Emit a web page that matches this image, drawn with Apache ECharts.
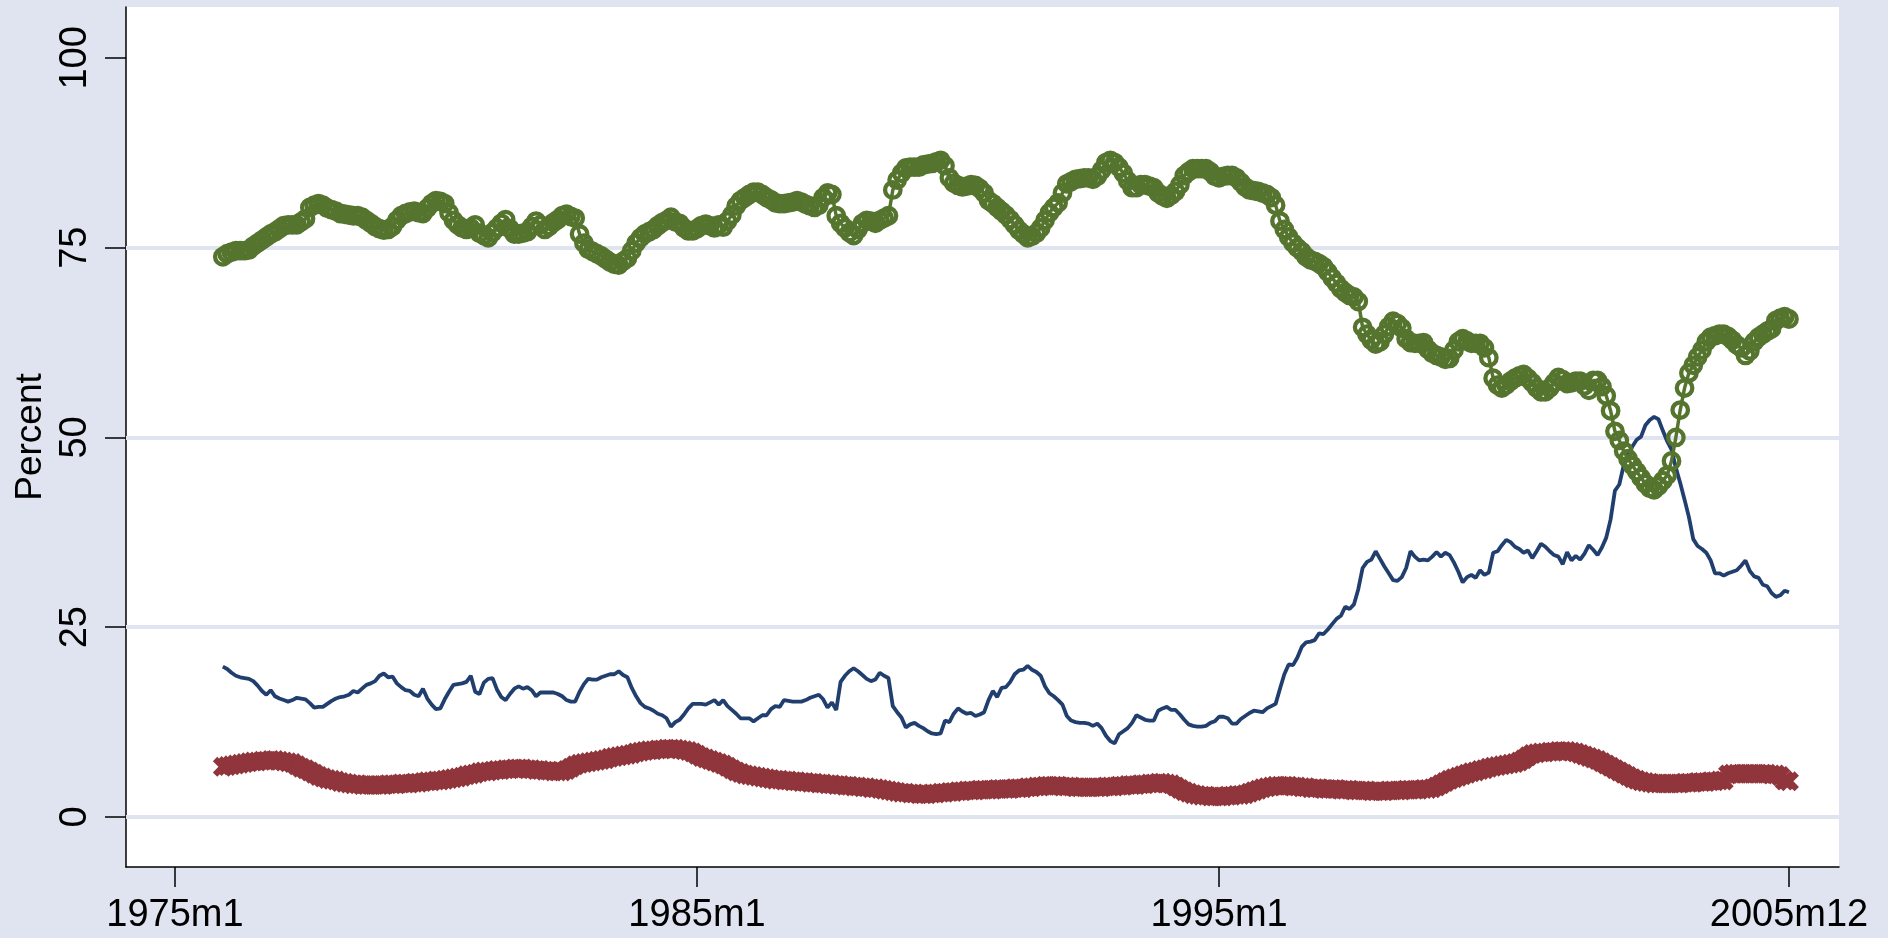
<!DOCTYPE html>
<html><head><meta charset="utf-8">
<script src="https://cdn.jsdelivr.net/npm/echarts@6/dist/echarts.min.js"></script>
<style>html,body{margin:0;padding:0;background:#e0e4f0}#c{width:1894px;height:938px}</style>
</head><body><div id="c"></div>
<script>
// months counted from 1975m1 (=0); data start at 1975m12
const startMonth = 11;
const tickMonths = [0, 120, 240, 371];
const tickLabels = ['1975m1', '1985m1', '1995m1', '2005m12'];
const yTicks = [0, 25, 50, 75, 100];
const gridValues = [0, 25, 50, 75];

const seriesBlue = [
19.8,19.5,19.0,18.6,18.4,18.3,18.2,17.9,17.3,16.6,16.1,16.7,
15.9,15.6,15.4,15.2,15.4,15.7,15.6,15.5,15.0,14.4,14.5,14.5,
14.9,15.3,15.6,15.8,15.9,16.1,16.6,16.4,16.9,17.4,17.6,17.9,
18.6,18.9,18.4,18.5,17.6,17.1,16.7,16.6,16.1,15.9,16.9,15.6,
14.8,14.2,14.3,15.5,16.5,17.4,17.5,17.6,17.8,18.6,16.5,16.2,
17.7,18.2,18.3,16.8,15.8,15.4,16.2,16.9,17.2,16.9,17.1,16.7,
15.9,16.4,16.4,16.4,16.4,16.2,15.9,15.4,15.2,15.2,16.5,17.5,
18.2,18.1,18.1,18.4,18.6,18.8,18.8,19.2,18.7,18.4,17.0,15.9,
15.0,14.5,14.3,14.0,13.6,13.4,13.0,11.9,12.5,12.8,13.5,14.3,
14.9,14.9,14.9,14.8,15.1,15.4,14.8,15.4,14.6,14.1,13.6,13.0,
13.0,13.0,12.6,13.0,13.4,13.4,14.2,14.6,14.5,15.4,15.3,15.2,
15.2,15.2,15.4,15.7,15.9,16.1,15.5,14.4,15.1,14.1,17.8,18.6,
19.2,19.6,19.2,18.7,18.2,17.9,18.1,19.0,18.6,18.3,14.6,13.8,
13.1,11.8,12.2,12.4,12.0,11.7,11.3,11.0,10.9,11.0,12.7,12.5,
13.6,14.3,13.9,13.6,13.7,13.3,13.5,13.8,15.4,16.6,15.8,17.0,
17.1,17.8,18.8,19.3,19.4,19.9,19.4,19.1,18.6,17.2,16.3,15.9,
15.4,14.8,13.3,12.7,12.5,12.4,12.4,12.3,12.0,12.3,11.7,10.7,
10.0,9.7,10.9,11.3,11.7,12.4,13.4,13.1,12.8,12.7,12.7,14.0,
14.3,14.5,14.1,14.1,13.5,12.8,12.2,12.0,11.9,11.9,12.0,12.4,
12.6,13.2,13.2,13.0,12.3,12.3,12.9,13.3,13.7,14.0,13.9,13.8,
14.3,14.6,14.9,16.9,18.8,20.1,20.0,21.0,22.4,23.0,23.1,23.3,
24.2,24.1,24.7,25.4,26.1,26.5,27.7,27.4,28.0,30.0,32.8,33.6,
33.9,35.0,34.0,33.0,32.1,31.2,31.1,31.6,32.8,35.0,34.3,33.8,
33.9,33.8,34.3,34.9,34.3,34.8,34.5,33.5,32.3,30.9,31.6,31.9,
31.5,32.5,31.9,32.2,34.8,35.0,35.8,36.5,36.2,35.6,35.3,34.8,
35.1,34.1,35.0,36.0,35.6,35.0,34.5,34.3,33.3,34.9,33.8,34.4,
33.9,34.7,35.8,35.2,34.5,35.5,36.8,39.2,43.0,43.8,46.3,47.6,
48.8,49.7,50.1,51.6,52.3,52.7,52.4,50.9,49.5,48.4,46.0,44.0,
41.8,39.5,36.6,35.7,35.3,34.8,33.8,32.1,32.1,31.8,32.1,32.3,
32.5,33.1,33.8,32.4,31.7,31.5,30.6,30.4,29.5,29.0,29.2,29.8,
29.6];

const seriesGreen = [
73.8,74.2,74.4,74.6,74.6,74.6,74.7,75.2,75.6,76.0,76.4,76.8,
77.1,77.5,77.9,78.0,78.0,78.0,78.4,78.8,80.3,80.6,80.8,80.6,
80.2,80.0,79.8,79.5,79.4,79.3,79.2,79.2,79.0,78.6,78.2,77.8,
77.5,77.3,77.4,77.8,78.6,79.2,79.5,79.7,79.8,79.6,79.5,80.2,
80.8,81.2,81.1,80.8,79.6,78.6,78.0,77.6,77.4,77.6,78.0,76.9,
76.6,76.3,77.0,77.6,78.2,78.7,77.5,76.8,76.8,76.9,77.1,77.8,
78.5,78.0,77.4,77.8,78.3,78.7,79.2,79.4,79.1,78.9,76.8,75.6,
74.8,74.5,74.2,73.9,73.5,73.1,72.8,72.7,73.2,73.6,74.6,75.6,
76.3,76.8,77.1,77.4,77.9,78.3,78.6,79.0,78.4,78.2,77.6,77.2,
77.2,77.5,77.9,78.1,77.9,77.6,78.0,77.7,78.5,79.3,80.5,81.2,
81.6,82.0,82.3,82.3,82.0,81.6,81.3,80.9,80.8,80.8,80.9,81.0,
81.2,81.0,80.7,80.5,80.3,80.6,81.6,82.2,82.0,79.2,78.2,77.6,
77.0,76.6,77.4,78.2,78.6,78.5,78.2,78.6,78.9,79.2,82.6,83.9,
84.8,85.5,85.6,85.6,85.6,85.9,86.0,86.1,86.3,86.5,85.8,84.2,
83.5,83.2,83.0,83.1,83.3,83.2,82.8,82.2,81.2,80.8,80.3,79.8,
79.3,78.7,78.0,77.3,76.8,76.3,76.5,76.9,77.6,78.6,79.6,80.3,
80.9,82.2,83.4,83.7,84.0,84.1,84.2,84.2,84.0,84.4,85.2,86.2,
86.5,86.2,85.6,84.8,83.8,82.9,82.9,83.3,83.3,83.1,82.9,82.2,
81.8,81.5,81.9,82.4,83.3,84.5,85.0,85.4,85.4,85.4,85.4,85.0,
84.4,84.2,84.4,84.5,84.5,84.2,83.6,83.0,82.6,82.5,82.4,82.2,
82.0,81.6,80.6,78.5,77.4,76.4,75.6,75.0,74.5,73.8,73.4,73.2,
72.9,72.5,71.8,71.0,70.3,69.6,69.1,68.7,68.5,67.9,64.5,63.6,
62.8,62.3,62.6,63.6,64.6,65.3,65.0,64.4,63.0,62.5,62.4,62.4,
62.5,61.6,61.1,60.8,60.6,60.3,60.4,61.5,62.6,63.0,62.7,62.4,
62.4,62.4,61.8,60.5,57.8,56.9,56.5,56.9,57.4,57.8,58.1,58.3,
57.8,57.2,56.5,56.0,56.0,56.5,57.2,57.9,57.6,57.1,57.2,57.4,
57.4,56.8,56.2,57.5,57.5,56.7,55.5,53.5,50.8,49.6,48.2,47.2,
46.3,45.5,44.7,43.9,43.3,43.1,43.6,44.3,45.0,46.9,50.0,53.6,
56.5,58.5,59.5,60.6,61.5,62.6,63.2,63.4,63.6,63.6,63.3,62.8,
62.2,61.8,60.8,61.4,62.6,63.2,63.6,64.0,64.3,65.4,65.7,65.9,
65.6];

const seriesRed = [
6.6,6.7,6.8,6.9,7.0,7.1,7.2,7.3,7.3,7.4,7.4,7.5,
7.5,7.4,7.3,7.2,7.1,6.8,6.5,6.3,6.0,5.7,5.4,5.2,
5.0,4.9,4.8,4.6,4.5,4.4,4.3,4.3,4.2,4.2,4.2,4.2,
4.2,4.2,4.3,4.3,4.3,4.4,4.4,4.4,4.5,4.5,4.6,4.7,
4.7,4.8,4.8,4.9,5.0,5.1,5.2,5.3,5.5,5.6,5.7,5.9,
6.0,6.0,6.1,6.2,6.2,6.3,6.3,6.4,6.4,6.4,6.3,6.3,
6.2,6.2,6.1,6.1,6.0,6.0,6.0,6.2,6.5,6.8,7.0,7.1,
7.2,7.3,7.4,7.5,7.6,7.8,7.9,8.0,8.1,8.2,8.3,8.5,
8.6,8.7,8.8,8.8,8.9,8.9,9.0,9.0,9.0,8.9,8.8,8.7,
8.5,8.2,7.9,7.7,7.5,7.3,7.1,6.9,6.6,6.3,6.0,5.8,
5.6,5.5,5.4,5.3,5.2,5.1,5.0,4.9,4.9,4.8,4.8,4.7,
4.7,4.6,4.6,4.5,4.5,4.4,4.4,4.3,4.3,4.2,4.2,4.1,
4.1,4.0,4.0,3.9,3.9,3.8,3.8,3.7,3.6,3.5,3.4,3.3,
3.2,3.2,3.1,3.1,3.0,3.0,3.0,3.1,3.1,3.2,3.2,3.3,
3.3,3.4,3.4,3.5,3.5,3.5,3.6,3.6,3.6,3.6,3.7,3.7,
3.7,3.7,3.8,3.8,3.8,3.9,3.9,4.0,4.0,4.1,4.1,4.1,
4.1,4.0,4.0,4.0,3.9,3.9,3.9,3.9,3.9,3.9,3.9,4.0,
4.0,4.0,4.1,4.1,4.2,4.2,4.2,4.3,4.3,4.4,4.4,4.5,
4.5,4.4,4.3,4.0,3.7,3.4,3.2,3.0,2.9,2.8,2.8,2.7,
2.7,2.7,2.7,2.8,2.8,2.9,2.9,3.0,3.2,3.4,3.6,3.8,
3.9,4.0,4.1,4.1,4.1,4.1,4.0,4.0,3.9,3.9,3.8,3.8,
3.8,3.7,3.7,3.7,3.7,3.6,3.6,3.6,3.5,3.5,3.5,3.5,
3.4,3.4,3.4,3.4,3.5,3.5,3.5,3.5,3.6,3.6,3.6,3.6,
3.7,3.7,3.8,4.0,4.3,4.6,4.9,5.1,5.3,5.5,5.7,5.9,
6.0,6.2,6.3,6.5,6.6,6.7,6.8,6.9,7.0,7.1,7.3,7.6,
8.0,8.3,8.4,8.5,8.5,8.6,8.6,8.7,8.7,8.7,8.6,8.5,
8.3,8.1,7.9,7.7,7.5,7.2,6.9,6.6,6.3,6.0,5.7,5.4,
5.1,4.9,4.7,4.6,4.5,4.4,4.4,4.4,4.4,4.4,4.4,4.4,
4.5,4.5,4.5,4.6,4.6,4.6,4.7,4.7,4.8,4.8,5.6,5.7,
5.7,5.7,5.7,5.7,5.7,5.7,5.7,5.7,5.6,5.6,5.4,4.8,
4.7];

const BG = '#e0e4f0';
const FONT = '"Liberation Sans", Arial, Helvetica, sans-serif';
const NAVY = '#213f6e', GREEN = '#55752f', MAROON = '#90353b';
const X_PATH = 'path://M0,2.2 L2.2,0 L5,2.8 L7.8,0 L10,2.2 L7.2,5 L10,7.8 L7.8,10 L5,7.2 L2.2,10 L0,7.8 L2.8,5 Z';

function toPairs(arr) { return arr.map((v, i) => [startMonth + i, v]); }
const labelMap = {};
tickMonths.forEach((m, i) => { labelMap[m] = tickLabels[i]; });

const chart = echarts.init(document.getElementById('c'), null, { renderer: 'canvas' });
const axisLineStyle = { color: '#000', width: 1.5 };
chart.setOption({
  animation: false,
  backgroundColor: BG,
  graphic: [{ type: 'rect', left: 1888, top: 0, shape: { width: 6, height: 938 }, style: { fill: '#fff' }, silent: true }],
  grid: { left: 126, top: 7, right: 55, bottom: 71, show: true, backgroundColor: '#fff', borderWidth: 0 },
  xAxis: {
    type: 'value', min: -11.26, max: 382.5,
    splitLine: { show: false },
    axisLine: { show: true, onZero: false, lineStyle: axisLineStyle },
    axisTick: { show: true, customValues: tickMonths, length: 20, inside: false, lineStyle: axisLineStyle },
    axisLabel: { customValues: tickMonths, formatter: v => labelMap[v] || '', fontSize: 38, fontFamily: FONT, color: '#000', margin: 30 }
  },
  yAxis: {
    type: 'value', min: -6.59, max: 106.7,
    splitLine: { show: false },
    axisLine: { show: true, onZero: false, lineStyle: axisLineStyle },
    axisTick: { show: true, customValues: yTicks, length: 21, inside: false, lineStyle: axisLineStyle },
    axisLabel: { customValues: yTicks, rotate: 90, fontSize: 38, fontFamily: FONT, color: '#000', margin: 31 },
    name: 'Percent', nameLocation: 'middle', nameRotate: 90, nameGap: 74,
    nameTextStyle: { fontSize: 37, fontFamily: FONT, color: '#000' }
  },
  series: [
    {
      type: 'line', data: [], silent: true, z: 1,
      markLine: {
        silent: true, z: 1, animation: false, symbol: ['none', 'none'], label: { show: false },
        lineStyle: { color: BG, width: 4, type: 'solid' },
        emphasis: { disabled: true },
        data: gridValues.map(v => ({ yAxis: v }))
      }
    },
    {
      type: 'line', data: toPairs(seriesRed), z: 2,
      symbol: X_PATH, symbolSize: 20, showAllSymbol: true,
      lineStyle: { color: MAROON, width: 3 },
      itemStyle: { color: MAROON, borderWidth: 0 },
      emphasis: { disabled: true }
    },
    {
      type: 'line', data: toPairs(seriesBlue), z: 3,
      showSymbol: false, symbol: 'none',
      lineStyle: { color: NAVY, width: 3.8 },
      itemStyle: { color: NAVY },
      emphasis: { disabled: true }
    },
    {
      type: 'line', data: toPairs(seriesGreen), z: 4,
      symbol: 'circle', symbolSize: 15.5, showAllSymbol: true,
      lineStyle: { color: GREEN, width: 3.5 },
      itemStyle: { color: 'rgba(0,0,0,0)', borderColor: GREEN, borderWidth: 4.3 },
      emphasis: { disabled: true }
    }
  ]
});
</script>
</body></html>
